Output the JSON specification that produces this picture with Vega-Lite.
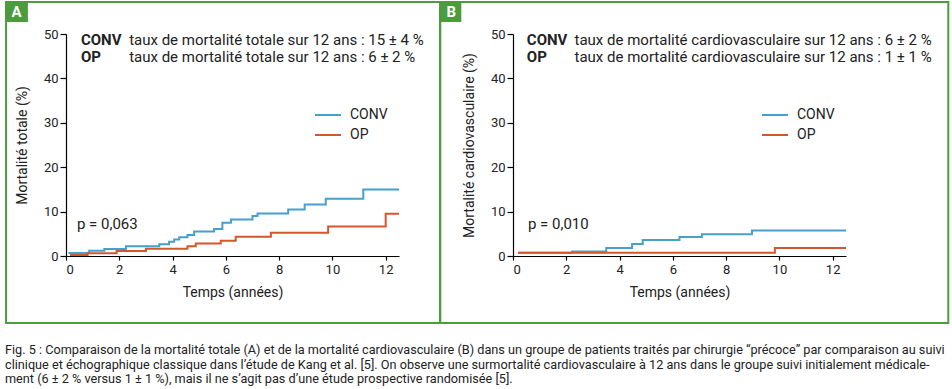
{
  "$schema": "https://vega.github.io/schema/vega-lite/v6.json",
  "background": "white",
  "padding": {"left": 4, "top": 1, "right": 4, "bottom": 2},
  "bounds": "flush",
  "spacing": 114,
  "datasets": {
    "totale": [
      {"annees": 0.09, "mortalite": 0.7, "groupe": "CONV"},
      {"annees": 0.87, "mortalite": 1.2, "groupe": "CONV"},
      {"annees": 1.44, "mortalite": 1.6, "groupe": "CONV"},
      {"annees": 2.25, "mortalite": 2.2, "groupe": "CONV"},
      {"annees": 3.5, "mortalite": 2.65, "groupe": "CONV"},
      {"annees": 3.87, "mortalite": 3.2, "groupe": "CONV"},
      {"annees": 4.06, "mortalite": 3.7, "groupe": "CONV"},
      {"annees": 4.25, "mortalite": 4.2, "groupe": "CONV"},
      {"annees": 4.56, "mortalite": 4.75, "groupe": "CONV"},
      {"annees": 4.81, "mortalite": 5.5, "groupe": "CONV"},
      {"annees": 5.56, "mortalite": 6.1, "groupe": "CONV"},
      {"annees": 5.87, "mortalite": 7.5, "groupe": "CONV"},
      {"annees": 6.19, "mortalite": 8.2, "groupe": "CONV"},
      {"annees": 7.0, "mortalite": 9.0, "groupe": "CONV"},
      {"annees": 7.19, "mortalite": 9.6, "groupe": "CONV"},
      {"annees": 8.34, "mortalite": 10.5, "groupe": "CONV"},
      {"annees": 8.96, "mortalite": 11.6, "groupe": "CONV"},
      {"annees": 9.75, "mortalite": 12.9, "groupe": "CONV"},
      {"annees": 11.16, "mortalite": 14.95, "groupe": "CONV"},
      {"annees": 12.5, "mortalite": 14.95, "groupe": "CONV"},
      {"annees": 0.15, "mortalite": 0.2, "groupe": "OP"},
      {"annees": 0.81, "mortalite": 0.6, "groupe": "OP"},
      {"annees": 1.9, "mortalite": 1.1, "groupe": "OP"},
      {"annees": 3.0, "mortalite": 1.65, "groupe": "OP"},
      {"annees": 4.56, "mortalite": 2.2, "groupe": "OP"},
      {"annees": 4.87, "mortalite": 2.8, "groupe": "OP"},
      {"annees": 5.81, "mortalite": 3.45, "groupe": "OP"},
      {"annees": 6.37, "mortalite": 4.35, "groupe": "OP"},
      {"annees": 7.69, "mortalite": 5.25, "groupe": "OP"},
      {"annees": 9.84, "mortalite": 6.65, "groupe": "OP"},
      {"annees": 12.0, "mortalite": 9.5, "groupe": "OP"},
      {"annees": 12.5, "mortalite": 9.5, "groupe": "OP"}
    ],
    "cardio": [
      {"annees": 0.19, "mortalite": 0.75, "groupe": "CONV"},
      {"annees": 2.22, "mortalite": 1.0, "groupe": "CONV"},
      {"annees": 3.5, "mortalite": 1.8, "groupe": "CONV"},
      {"annees": 4.47, "mortalite": 2.7, "groupe": "CONV"},
      {"annees": 4.87, "mortalite": 3.6, "groupe": "CONV"},
      {"annees": 6.25, "mortalite": 4.3, "groupe": "CONV"},
      {"annees": 7.09, "mortalite": 4.9, "groupe": "CONV"},
      {"annees": 8.97, "mortalite": 5.75, "groupe": "CONV"},
      {"annees": 12.5, "mortalite": 5.75, "groupe": "CONV"},
      {"annees": 0.19, "mortalite": 0.75, "groupe": "OP"},
      {"annees": 9.83, "mortalite": 1.8, "groupe": "OP"},
      {"annees": 12.5, "mortalite": 1.8, "groupe": "OP"}
    ]
  },
  "title": {
    "text": [
      "Fig. 5 : Comparaison de la mortalité totale (A) et de la mortalité cardiovasculaire (B) dans un groupe de patients traités par chirurgie “précoce” par comparaison au suivi",
      "clinique et échographique classique dans l’étude de Kang et al. [5]. On observe une surmortalité cardiovasculaire à 12 ans dans le groupe suivi initialement médicale-",
      "ment (6 ± 2 % versus 1 ± 1 %), mais il ne s’agit pas d’une étude prospective randomisée [5]."
    ],
    "orient": "bottom",
    "anchor": "start",
    "frame": "bounds",
    "offset": 20,
    "font": "Roboto",
    "fontSize": 12.7,
    "fontWeight": "normal",
    "lineHeight": 14.5,
    "color": "#222222"
  },
  "hconcat": [
    {
      "width": 333,
      "height": 222,
      "layer": [
        {
          "data": {"values": [{}]},
          "mark": {"type": "rect", "fill": "transparent", "stroke": "#4c9b3c", "strokeWidth": 2},
          "encoding": {"x": {"datum": -2.25}, "x2": {"datum": 14.04}, "y": {"datum": 57.2}, "y2": {"datum": -15.1}}
        },
        {
          "data": {"values": [{}]},
          "mark": {"type": "rect", "fill": "#4c9b3c"},
          "encoding": {"x": {"datum": -2.29}, "x2": {"datum": -1.43}, "y": {"datum": 57.2}, "y2": {"datum": 52.7}}
        },
        {
          "data": {"values": [{}]},
          "mark": {"type": "text", "text": "A", "color": "white", "fontWeight": "bold", "fontSize": 15, "align": "center", "baseline": "middle"},
          "encoding": {"x": {"datum": -1.86}, "y": {"datum": 54.95}}
        },
        {
          "data": {"name": "totale"},
          "mark": {"type": "line", "interpolate": "step-after", "strokeWidth": 2},
          "encoding": {
            "x": {"field": "annees", "type": "quantitative", "scale": {"domain": [0, 12.5], "nice": false}, "axis": {"values": [0, 2, 4, 6, 8, 10, 12], "title": "Temps (années)"}},
            "y": {"field": "mortalite", "type": "quantitative", "scale": {"domain": [0, 50], "nice": false}, "axis": {"values": [0, 10, 20, 30, 40, 50], "title": "Mortalité totale (%)"}},
            "color": {"field": "groupe", "type": "nominal", "scale": {"domain": ["CONV", "OP"], "range": ["#45a0cc", "#d5562d"]}, "legend": {"orient": "none", "legendX": 255, "legendY": 74, "title": null}}
          }
        },
        {
          "data": {"values": [{}]},
          "mark": {"type": "text", "text": ["CONV", "OP"], "fontWeight": "bold", "fontSize": 15, "lineHeight": 17, "align": "left", "baseline": "alphabetic", "color": "#222222"},
          "encoding": {"x": {"datum": 0.56}, "y": {"datum": 47.6}}
        },
        {
          "data": {"values": [{}]},
          "mark": {"type": "text", "text": ["taux de mortalité totale sur 12 ans : 15 ± 4 %", "taux de mortalité totale sur 12 ans : 6 ± 2 %"], "fontSize": 15, "lineHeight": 17, "align": "left", "baseline": "alphabetic", "color": "#222222"},
          "encoding": {"x": {"datum": 2.37}, "y": {"datum": 47.6}}
        },
        {
          "data": {"values": [{}]},
          "mark": {"type": "text", "text": "p = 0,063", "fontSize": 15, "align": "left", "baseline": "alphabetic", "color": "#222222"},
          "encoding": {"x": {"datum": 0.41}, "y": {"datum": 6.0}}
        }
      ]
    },
    {
      "width": 333,
      "height": 222,
      "layer": [
        {
          "data": {"values": [{}]},
          "mark": {"type": "rect", "fill": "transparent", "stroke": "#4c9b3c", "strokeWidth": 2},
          "encoding": {"x": {"datum": -2.73}, "x2": {"datum": 16.34}, "y": {"datum": 57.2}, "y2": {"datum": -15.1}}
        },
        {
          "data": {"values": [{}]},
          "mark": {"type": "rect", "fill": "#4c9b3c"},
          "encoding": {"x": {"datum": -2.73}, "x2": {"datum": -1.94}, "y": {"datum": 57.2}, "y2": {"datum": 52.7}}
        },
        {
          "data": {"values": [{}]},
          "mark": {"type": "text", "text": "B", "color": "white", "fontWeight": "bold", "fontSize": 15, "align": "center", "baseline": "middle"},
          "encoding": {"x": {"datum": -2.32}, "y": {"datum": 54.95}}
        },
        {
          "data": {"name": "cardio"},
          "mark": {"type": "line", "interpolate": "step-after", "strokeWidth": 2},
          "encoding": {
            "x": {"field": "annees", "type": "quantitative", "scale": {"domain": [0, 12.5], "nice": false}, "axis": {"values": [0, 2, 4, 6, 8, 10, 12], "title": "Temps (années)"}},
            "y": {"field": "mortalite", "type": "quantitative", "scale": {"domain": [0, 50], "nice": false}, "axis": {"values": [0, 10, 20, 30, 40, 50], "title": "Mortalité cardiovasculaire (%)"}},
            "color": {"field": "groupe", "type": "nominal", "scale": {"domain": ["CONV", "OP"], "range": ["#45a0cc", "#d5562d"]}, "legend": {"orient": "none", "legendX": 255, "legendY": 74, "title": null}}
          }
        },
        {
          "data": {"values": [{}]},
          "mark": {"type": "text", "text": ["CONV", "OP"], "fontWeight": "bold", "fontSize": 15, "lineHeight": 17, "align": "left", "baseline": "alphabetic", "color": "#222222"},
          "encoding": {"x": {"datum": 0.52}, "y": {"datum": 47.6}}
        },
        {
          "data": {"values": [{}]},
          "mark": {"type": "text", "text": ["taux de mortalité cardiovasculaire sur 12 ans : 6 ± 2 %", "taux de mortalité cardiovasculaire sur 12 ans : 1 ± 1 %"], "fontSize": 15, "lineHeight": 17, "align": "left", "baseline": "alphabetic", "color": "#222222"},
          "encoding": {"x": {"datum": 2.31}, "y": {"datum": 47.6}}
        },
        {
          "data": {"values": [{}]},
          "mark": {"type": "text", "text": "p = 0,010", "fontSize": 15, "align": "left", "baseline": "alphabetic", "color": "#222222"},
          "encoding": {"x": {"datum": 0.56}, "y": {"datum": 6.0}}
        }
      ]
    }
  ],
  "resolve": {
    "scale": {"x": "independent", "y": "independent", "color": "independent"},
    "legend": {"color": "independent"}
  },
  "config": {
    "font": "Roboto",
    "view": {"stroke": null},
    "axis": {
      "grid": false,
      "domainColor": "#000000",
      "tickColor": "#000000",
      "domainWidth": 1.2,
      "tickWidth": 1.2,
      "labelColor": "#222222",
      "titleColor": "#222222",
      "labelFont": "Roboto",
      "titleFont": "Roboto",
      "labelFontSize": 13,
      "titleFontSize": 14,
      "titleFontWeight": "normal"
    },
    "axisX": {"tickSize": 4, "labelPadding": 3, "titlePadding": 9},
    "axisY": {"tickSize": 6, "labelPadding": 2, "titlePadding": 14},
    "legend": {
      "symbolType": "M-2.6,0L2.6,0",
      "symbolSize": 100,
      "symbolStrokeWidth": 2,
      "labelFont": "Roboto",
      "labelFontSize": 14,
      "labelColor": "#222222",
      "labelOffset": 15,
      "rowPadding": 6,
      "padding": 0
    }
  }
}
